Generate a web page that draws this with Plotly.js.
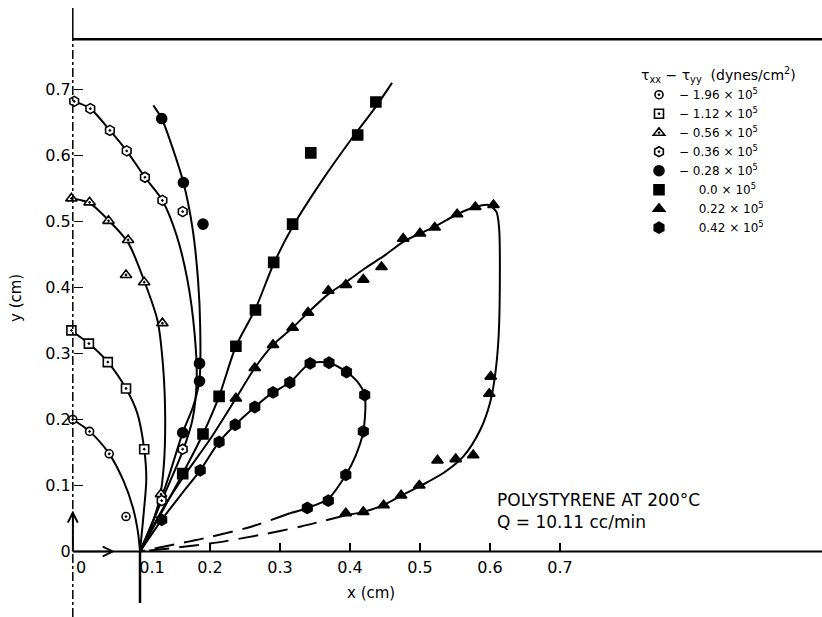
<!DOCTYPE html>
<html>
<head>
<meta charset="utf-8">
<script src="https://cdn.plot.ly/plotly-3.0.1.min.js"></script>
<style>html,body{margin:0;padding:0;background:#fff;}#chart{width:822px;height:617px;}</style>
</head>
<body>
<div id="chart"></div>
<script>
// ---------- data ----------
var seriesNames = ["\u2212 1.96 \u00d7 10<sup>5</sup>", "\u2212 1.12 \u00d7 10<sup>5</sup>", "\u2212 0.56 \u00d7 10<sup>5</sup>",
  "\u2212 0.36 \u00d7 10<sup>5</sup>", "\u2212 0.28 \u00d7 10<sup>5</sup>", "\u2003\u00a0 0.0 \u00d7 10<sup>5</sup>",
  "\u2003\u00a0 0.22 \u00d7 10<sup>5</sup>", "\u2003\u00a0 0.42 \u00d7 10<sup>5</sup>"];

// measured points (markers)
var p1x = [0.004, 0.028, 0.056, 0.080];
var p1y = [0.200, 0.182, 0.148, 0.053];
var p2x = [0.002, 0.027, 0.054, 0.080, 0.106];
var p2y = [0.335, 0.315, 0.287, 0.247, 0.155];
var p3x = [0.002, 0.028, 0.055, 0.083, 0.080, 0.106, 0.132, 0.130];
var p3y = [0.535, 0.529, 0.501, 0.472, 0.419, 0.408, 0.346, 0.087];
var p4x = [0.006, 0.029, 0.057, 0.081, 0.107, 0.132, 0.161, 0.161, 0.131];
var p4y = [0.682, 0.671, 0.638, 0.607, 0.567, 0.532, 0.515, 0.155, 0.077];
var p5x = [0.131, 0.162, 0.190, 0.185, 0.185, 0.161];
var p5y = [0.656, 0.559, 0.496, 0.285, 0.258, 0.180];
var p6x = [0.161, 0.190, 0.213, 0.237, 0.265, 0.291, 0.318, 0.344, 0.411, 0.437];
var p6y = [0.118, 0.178, 0.235, 0.311, 0.366, 0.438, 0.496, 0.604, 0.631, 0.681];
var p7x = [0.237, 0.264, 0.290, 0.318, 0.340, 0.369, 0.394, 0.419, 0.445, 0.476, 0.500, 0.521, 0.553, 0.579, 0.605,
           0.601, 0.599, 0.576, 0.551, 0.525, 0.499, 0.473, 0.448, 0.419, 0.394];
var p7y = [0.232, 0.278, 0.313, 0.339, 0.362, 0.395, 0.404, 0.412, 0.431, 0.474, 0.482, 0.491, 0.511, 0.522, 0.525,
           0.265, 0.239, 0.146, 0.140, 0.138, 0.100, 0.085, 0.070, 0.060, 0.058];
var p8x = [0.131, 0.186, 0.213, 0.236, 0.264, 0.290, 0.314, 0.343, 0.370, 0.395, 0.421, 0.419, 0.394, 0.369, 0.339];
var p8y = [0.048, 0.123, 0.166, 0.192, 0.219, 0.241, 0.256, 0.285, 0.286, 0.272, 0.237, 0.182, 0.116, 0.077, 0.066];

// hand-drawn fitted curves
var c1x = [0.004, 0.028, 0.056, 0.076, 0.090, 0.097, 0.100];
var c1y = [0.200, 0.182, 0.148, 0.108, 0.066, 0.030, 0.000];
var c2x = [0.004, 0.027, 0.054, 0.080, 0.096, 0.106, 0.109, 0.105, 0.100];
var c2y = [0.333, 0.315, 0.287, 0.247, 0.210, 0.155, 0.110, 0.055, 0.000];
var c3x = [0.004, 0.028, 0.055, 0.083, 0.106, 0.125, 0.133, 0.136, 0.134, 0.128, 0.115, 0.100];
var c3y = [0.535, 0.528, 0.502, 0.468, 0.410, 0.350, 0.280, 0.200, 0.130, 0.080, 0.035, 0.000];
var c4x = [0.006, 0.029, 0.057, 0.081, 0.107, 0.132, 0.152, 0.168, 0.178, 0.181, 0.175, 0.161, 0.131, 0.100];
var c4y = [0.682, 0.671, 0.638, 0.607, 0.567, 0.532, 0.480, 0.410, 0.330, 0.260, 0.200, 0.152, 0.077, 0.000];
var c5x = [0.119, 0.131, 0.147, 0.162, 0.175, 0.183, 0.186, 0.185, 0.176, 0.161, 0.140, 0.120, 0.100];
var c5y = [0.676, 0.656, 0.610, 0.559, 0.490, 0.410, 0.340, 0.260, 0.220, 0.180, 0.110, 0.050, 0.000];
var c6x = [0.100, 0.161, 0.190, 0.213, 0.237, 0.265, 0.291, 0.318, 0.360, 0.400, 0.437, 0.460];
var c6y = [0.000, 0.118, 0.178, 0.235, 0.311, 0.368, 0.436, 0.492, 0.562, 0.622, 0.674, 0.710];
var c7x = [0.100, 0.130, 0.160, 0.200, 0.237, 0.264, 0.290, 0.318, 0.340, 0.369, 0.394, 0.420, 0.450, 0.476, 0.500, 0.521,
           0.553, 0.579, 0.598, 0.609, 0.613, 0.614, 0.612, 0.607, 0.600, 0.586, 0.562, 0.535, 0.500, 0.472, 0.447, 0.419, 0.394];
var c7y = [0.000, 0.060, 0.110, 0.170, 0.232, 0.278, 0.313, 0.339, 0.362, 0.390, 0.408, 0.428, 0.449, 0.469, 0.482, 0.492,
           0.511, 0.522, 0.525, 0.515, 0.490, 0.400, 0.320, 0.265, 0.225, 0.184, 0.144, 0.120, 0.099, 0.084, 0.070, 0.060, 0.055];
var d7x = [0.394, 0.330, 0.271, 0.200, 0.100];
var d7y = [0.055, 0.038, 0.025, 0.012, 0.000];
var c8x = [0.100, 0.131, 0.160, 0.186, 0.213, 0.236, 0.264, 0.290, 0.314, 0.343, 0.370, 0.395, 0.410, 0.421, 0.419, 0.408,
           0.394, 0.369, 0.339, 0.314];
var c8y = [0.000, 0.048, 0.088, 0.123, 0.166, 0.192, 0.219, 0.241, 0.256, 0.285, 0.286, 0.272, 0.258, 0.237, 0.182, 0.145,
           0.116, 0.080, 0.066, 0.058];
var d8x = [0.314, 0.260, 0.200, 0.100];
var d8y = [0.058, 0.038, 0.022, 0.000];

// x tick labels: the "0" label sits right of the y axis line, drawn as a note below
var xZeroLabel = "0";
var xTickVals = [0.1, 0.2, 0.3, 0.4, 0.5, 0.6, 0.7];
var xTickText = ["\u2003\u20020.1", "0.2", "0.3", "0.4", "0.5", "0.6", "0.7"];
var yTickVals = [0, 0.1, 0.2, 0.3, 0.4, 0.5, 0.6, 0.7];
var yTickText = ["0", "0.1", "0.2", "0.3", "0.4", "0.5", "0.6", "0.7"];

// ---------- build ----------
var FONT = "DejaVu Sans, Liberation Sans, sans-serif";
var traces = [];
function curve(x, y, dash) {
  traces.push({x: x, y: y, mode: "lines", type: "scatter", showlegend: false, hoverinfo: "skip",
    line: {color: "black", width: 2, shape: "spline", smoothing: 0.8, dash: dash || "solid"}});
}
curve(c1x, c1y); curve(c2x, c2y); curve(c3x, c3y); curve(c4x, c4y); curve(c5x, c5y);
curve(c6x, c6y); curve(c7x, c7y); curve(d7x, d7y, "20px,10px"); curve(c8x, c8y); curve(d8x, d8y, "20px,10px");

var px = [p1x, p2x, p3x, p4x, p5x, p6x, p7x, p8x];
var py = [p1y, p2y, p3y, p4y, p5y, p6y, p7y, p8y];
var sym = ["circle-dot", "square-dot", "triangle-up-dot", "hexagon-dot", "circle", "square", "triangle-up", "hexagon"];
var fill = ["white", "white", "white", "white", "black", "black", "black", "black"];
var size = [8, 9, 10, 10, 10, 10, 10, 11];
for (var i = 0; i < 8; i++) {
  traces.push({x: px[i], y: py[i], mode: "markers", type: "scatter", name: seriesNames[i],
    marker: {symbol: sym[i], color: fill[i], size: size[i], line: {color: "black", width: 1.6}}});
}

// pixel mapping: x px = 70 + 700*x ; y px = 551.5 - 660*y
var W = 822, H = 617;
var xr = [-70 / 700, (W - 70) / 700];
var yr = [(551.5 - H) / 660, 551.5 / 660];

var layout = {
  width: W, height: H,
  margin: {l: 0, r: 0, t: 0, b: 0},
  paper_bgcolor: "white", plot_bgcolor: "white",
  font: {family: FONT, color: "black", size: 16},
  showlegend: true,
  xaxis: {range: xr, anchor: "free", position: (H - 551.5) / H, showgrid: false, zeroline: false, showline: false,
    tickmode: "array", tickvals: xTickVals, ticktext: xTickText, ticks: "inside", ticklen: 9, tickwidth: 1.5,
    tickcolor: "black", tickfont: {size: 16, family: FONT}, ticklabelstandoff: 4},
  yaxis: {range: yr, anchor: "free", position: 72.7 / W, showgrid: false, zeroline: false, showline: false,
    tickmode: "array", tickvals: yTickVals, ticktext: yTickText, ticks: "inside", ticklen: 9, tickwidth: 1.5,
    tickcolor: "black", tickfont: {size: 16, family: FONT}, ticklabelstandoff: 2},
  legend: {x: 639 / W, y: 1 - 62 / H, xanchor: "left", yanchor: "top", bgcolor: "rgba(0,0,0,0)",
    font: {size: 12, family: FONT}, itemclick: false,
    title: {text: "\u03c4<sub>xx</sub> \u2212 \u03c4<sub>yy</sub>  (dynes/cm<sup>2</sup>)", font: {size: 14, family: FONT}}},
  shapes: [
    {type: "line", xref: "x", yref: "y", x0: 0.004, x1: xr[1], y0: 0.776, y1: 0.776, line: {color: "black", width: 2.5}},
    {type: "line", xref: "x", yref: "y", x0: 0.004, x1: xr[1], y0: 0, y1: 0, line: {color: "black", width: 2}},
    {type: "line", xref: "x", yref: "y", x0: 0.004, x1: 0.004, y0: 0.776, y1: 0.8235, line: {color: "black", width: 1.5}},
    {type: "line", xref: "x", yref: "y", x0: 0.004, x1: 0.004, y0: yr[0], y1: 0.776, line: {color: "black", width: 1.5, dash: "dashdot"}},
    {type: "line", xref: "x", yref: "y", x0: 0.004, x1: 0.004, y0: 0, y1: 0.06, line: {color: "black", width: 1.8}},
    {type: "line", xref: "x", yref: "y", x0: 0.1, x1: 0.1, y0: -0.078, y1: 0, line: {color: "black", width: 2.5}}
  ],
  annotations: [
    {xref: "x", yref: "y", x: 0.004, y: 0.062, ax: 0.004, ay: 0.0, axref: "x", ayref: "y", text: "", showarrow: true,
      arrowhead: 5, arrowsize: 1.3, arrowwidth: 1.5, arrowcolor: "black"},
    {xref: "x", yref: "y", x: 0.064, y: 0, ax: 0.004, ay: 0, axref: "x", ayref: "y", text: "", showarrow: true,
      arrowhead: 5, arrowsize: 1.3, arrowwidth: 1.5, arrowcolor: "black"},
    {xref: "paper", yref: "paper", x: 74 / W, y: 1 - 567 / H, xanchor: "left", yanchor: "middle", showarrow: false,
      text: xZeroLabel, font: {size: 16, family: FONT}},
    {xref: "paper", yref: "paper", x: 371 / W, y: 1 - 593 / H, xanchor: "center", yanchor: "middle", showarrow: false,
      text: "x (cm)", font: {size: 15, family: FONT}},
    {xref: "paper", yref: "paper", x: 16 / W, y: 1 - 298 / H, xanchor: "center", yanchor: "middle", showarrow: false,
      textangle: -90, text: "y (cm)", font: {size: 15, family: FONT}},
    {xref: "paper", yref: "paper", x: 495 / W, y: 1 - 510.5 / H, xanchor: "left", yanchor: "middle", align: "left", showarrow: false,
      text: "POLYSTYRENE AT 200\u00b0C<br>Q = 10.11 cc/min", font: {size: 17, family: FONT}}
  ]
};

Plotly.newPlot("chart", traces, layout, {displayModeBar: false, staticPlot: true});
</script>
</body>
</html>
